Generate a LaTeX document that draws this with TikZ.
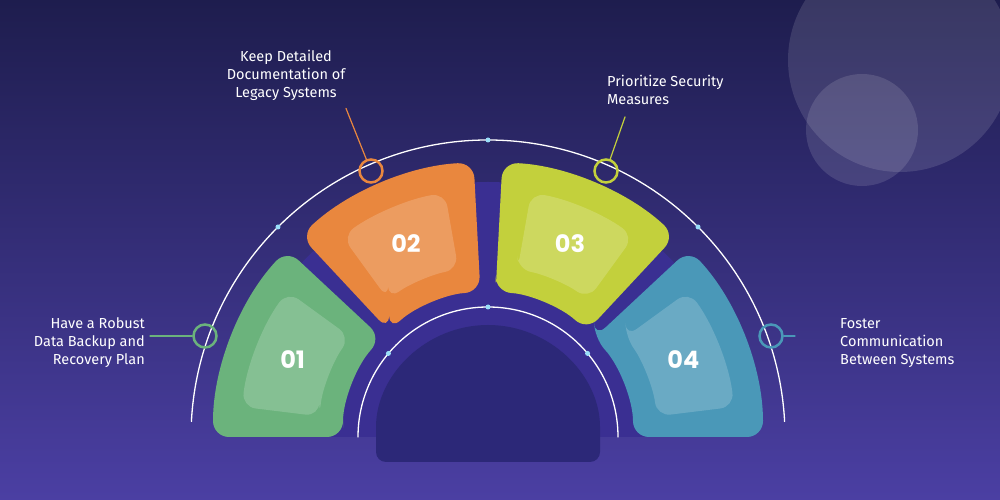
\documentclass[tikz,border=0pt]{standalone}
\usepackage{fontspec}
\setmainfont{Fira Sans}
\newfontfamily\numfont{Poppins}
\usetikzlibrary{positioning}
\begin{document}
\begin{tikzpicture}
	[x=1pt,y=1pt,line cap=round,
	% Styles
	step text/.style={text=white,font=\fontsize{14.5}{18}\selectfont,inner sep=0pt},
	step number/.style={text=white,font=\numfont\bfseries\fontsize{24}{26}\selectfont},
	marker/.style={circle,minimum size=23pt,inner sep=0pt,line width=2.5pt},
	small dot/.style={circle,fill=cyan!40,minimum size=5pt,inner sep=0pt}]
	
	% Colors
	\definecolor{bgtop}{HTML}{1E1D4E}
	\definecolor{bgbot}{HTML}{4B3FA3}
	\definecolor{bandcol}{HTML}{3A2F92}
	\definecolor{holecol}{HTML}{2C2878}
	\definecolor{stepA}{HTML}{6BB37C}
	\definecolor{stepB}{HTML}{E9873E}
	\definecolor{stepC}{HTML}{C3D03C}
	\definecolor{stepD}{HTML}{4A98B8}
	
	% Background
	\shade[top color=bgtop,bottom color=bgbot] (0,0) rectangle (1000,500);
	\useasboundingbox (0,0) rectangle (1000,500);
	\fill[white,opacity=0.12] (900,440) circle [radius=112];
	\fill[white,opacity=0.12] (862,370) circle [radius=56];
	
	\coordinate (c) at (488,63);
	
	% Band
	\fill[bandcol] ([xshift=-255]c) arc [start angle=180,end angle=0,radius=255] -- cycle;
	\fill[holecol,rounded corners=10pt] ([xshift=-112,yshift=-25]c) -- ([xshift=-112]c)
	arc [start angle=180,end angle=0,radius=112] -- ([xshift=112,yshift=-25]c) -- cycle;
	
	% Arcs
	\draw[white,line width=1.3pt] ([shift={(177:297)}]c) arc [start angle=177,end angle=3,radius=297];
	\draw[white,line width=1.3pt] ([shift={(180:130)}]c) arc [start angle=180,end angle=0,radius=130];
	
	% Segments
	\foreach \a/\b/\col/\num [count=\i] in {180/137/stepA/01,133/93/stepB/02,87/47/stepC/03,43/0/stepD/04}{
		\fill[\col,rounded corners=16pt] ([shift={(\a:145)}]c) -- ([shift={(\a:275)}]c)
		arc [start angle=\a,end angle=\b,radius=275] -- ([shift={(\b:145)}]c)
		arc [start angle=\b,end angle=\a,radius=145] -- cycle;
		\fill[white,opacity=0.18,rounded corners=14pt] ([shift={(\a-7:170)}]c) -- ([shift={(\a-7:248)}]c)
		arc [start angle=\a-7,end angle=\b+7,radius=248] -- ([shift={(\b+7:170)}]c)
		arc [start angle=\b+7,end angle=\a-7,radius=170] -- cycle;
		\node[step number] (n\i) at ([shift={({(\a+\b)/2}:210)}]c) {\num};
	}
	
	% Dots
	\foreach \ang/\r [count=\i] in {90/297,135/297,45/297,90/130,140/130,40/130}
	\node[small dot] (d\i) at ([shift={(\ang:\r)}]c) {};
	
	% Markers
	\node[marker,draw=stepA] (m1) at (205,164) {};
	\node[marker,draw=stepB] (m2) at (371,329) {};
	\node[marker,draw=stepC] (m3) at (606,329) {};
	\node[marker,draw=stepD] (m4) at (771,164) {};
	
	% Labels
	\node[step text,align=right,anchor=east] (t1) at (145,157) {Have a Robust\\Data Backup and\\Recovery Plan};
	\node[step text,align=center] (t2) at (286,425) {Keep Detailed\\Documentation of\\Legacy Systems};
	\node[step text,align=left,anchor=west] (t3) at (607,410) {Prioritize Security\\Measures};
	\node[step text,align=left,anchor=west] (t4) at (840,157) {Foster\\Communication\\Between Systems};
	
	\draw[stepA,line width=1.2pt] ([xshift=5]t1.east |- m1) -- (m1);
	\draw[stepB,line width=1.2pt] ([xshift=60,yshift=-8]t2.south) -- (m2);
	\draw[stepC,line width=1.2pt] ([xshift=18,yshift=-12]t3.south west) -- (m3);
	\draw[stepD,line width=1.2pt] ([xshift=-45]t4.west |- m4) -- (m4);
\end{tikzpicture}
\end{document}
